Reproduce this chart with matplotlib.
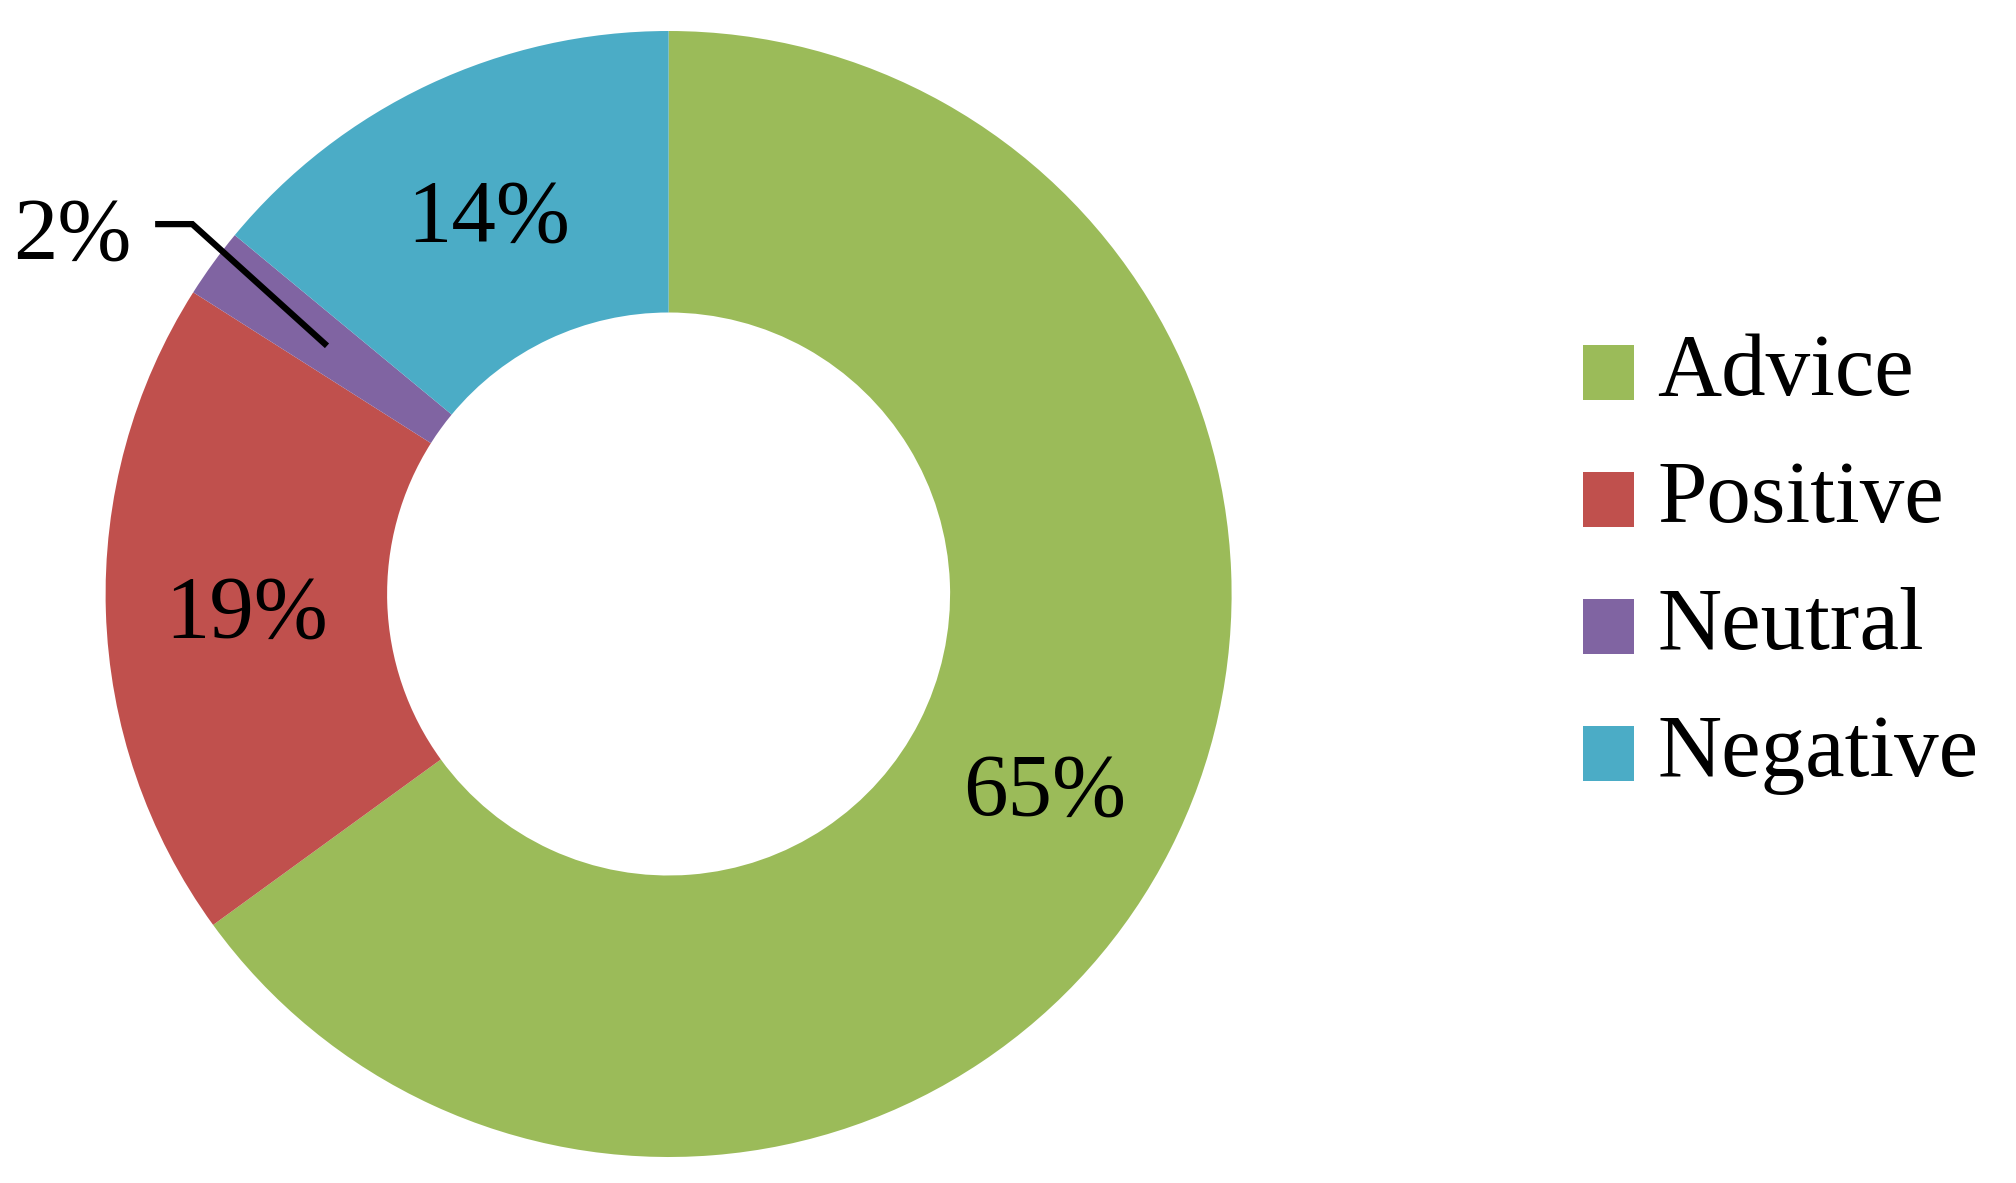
import numpy as np
import matplotlib
matplotlib.use("Agg")
import matplotlib.pyplot as plt
from matplotlib.transforms import offset_copy

categories = ["Advice", "Positive", "Neutral", "Negative"]
values = [65, 19, 2, 14]
colors = ["#9BBB59", "#C0504D", "#8064A2", "#4BACC6"]

plt.rcParams['font.family'] = ['Liberation Serif', 'DejaVu Serif']

W, H = 2016, 1183
fig = plt.figure(figsize=(W / 100, H / 100), dpi=100)
cx, cy, R = 668.6, 594.0, 563.0
ax = fig.add_axes([(cx - R) / W, (H - cy - R) / H, 2 * R / W, 2 * R / H])

wedges, texts = ax.pie(values, colors=colors, startangle=90, counterclock=False,
                       radius=1.0, wedgeprops=dict(width=0.5, linewidth=0),
                       labels=None)
ax.set_xlim(-1, 1)
ax.set_ylim(-1, 1)
ax.set_aspect('equal')
ax.axis('off')

# baseline placed so the digits are visually centred on the anchor point
tr = offset_copy(ax.transData, fig=fig, x=0, y=-29, units='dots')

total = sum(values)
fs = 64
for w, v in zip(wedges, values):
    ang = np.deg2rad((w.theta1 + w.theta2) / 2)
    pct = f"{v / total * 100:.0f}%"
    if v / total < 0.05:
        # leader line label
        ex, ey = 0.75 * np.cos(ang), 0.75 * np.sin(ang)
        kx, ky = -0.846, 0.657
        sx = -0.912
        ax.plot([sx, kx, ex], [ky, ky, ey], color='black', lw=4.5,
                solid_capstyle='butt', solid_joinstyle='miter', clip_on=False)
        ax.text(-1.059, 0.648, pct, ha='center', va='baseline', fontsize=fs,
                transform=tr)
    else:
        ax.text(0.75 * np.cos(ang), 0.75 * np.sin(ang), pct,
                ha='center', va='baseline', fontsize=fs, transform=tr)

leg = fig.legend(wedges, categories, loc='center left',
                 bbox_to_anchor=(1583 / W, 1 - 564 / H), frameon=False,
                 fontsize=fs, handlelength=0.574, handleheight=0.574,
                 handletextpad=0.26, labelspacing=0.515, borderpad=0,
                 borderaxespad=0)
for h in leg.legend_handles:
    h.set_y(h.get_y() - 6.5)

fig.savefig("out.png", dpi=100)
